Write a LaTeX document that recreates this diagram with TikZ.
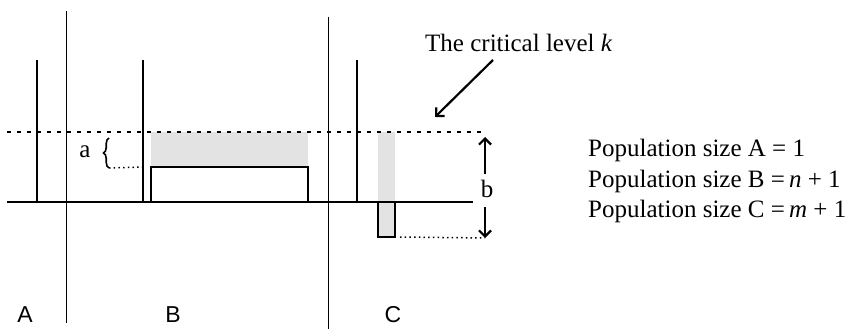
\documentclass[tikz,border=0pt]{standalone}
\usepackage{fontspec}
\setmainfont{Liberation Serif}
\newfontfamily\labelsans{Liberation Sans}
\usetikzlibrary{arrows.meta,decorations.pathreplacing}
\begin{document}
\begin{tikzpicture}[x=1pt,y=-1pt,
  thickline/.style={line width=2.7pt},
  thinline/.style={line width=0.9pt},
  critical/.style={line width=2pt, dash pattern=on 3.5pt off 6.5pt},
  finedots/.style={line width=1.5pt, dash pattern=on 1.5pt off 3.2pt},
  shade/.style={fill=black!11, draw=none},
  boxline/.style={line width=2.5pt},
  bracestyle/.style={line width=1.6pt, decorate, decoration={brace, amplitude=5.5pt}},
  lbl/.style={font=\fontsize{25}{30}\selectfont, inner sep=0pt},
  seclbl/.style={font=\labelsans\fontsize{23}{28}\selectfont, inner sep=0pt},
  pointer/.style={line width=2.2pt, -{Straight Barb[length=6pt,width=12pt,line width=2.2pt]}}]
\useasboundingbox (0,0) rectangle (855,329);

% shaded areas
\fill[shade] (151,132) rectangle (308,167);
\fill[shade] (378,132) rectangle (395,202);

% section separators
\draw[thinline] (66,11) -- (66,323);
\draw[thinline] (328,17) -- (328,329);

% critical level
\coordinate (kL) at (7,132);
\coordinate (kR) at (487,132);
\draw[critical] (kL) -- (kR);

% baseline
\coordinate (baseL) at (7,202);
\coordinate (baseR) at (473,202);
\draw[thickline] (baseL) -- (baseR);

% spikes
\draw[thickline] (37,60) -- (37,202);
\draw[thickline] (143,60) -- (143,202);
\draw[thickline] (357,60) -- (357,202);

% boxes
\draw[boxline, fill=white] (151,167) rectangle (308,202);
\draw[boxline, fill=black!11] (378,202) rectangle (395,237);

% a brace
\node[lbl] (a) at (85,152) {a};
\coordinate (braceBot) at (109,168);
\coordinate (braceTop) at (109,138);
\draw[bracestyle] (braceBot) -- (braceTop);
\coordinate (aBox) at (143,167);
\draw[finedots] (braceBot) -- (aBox);

% b
\node[lbl] (b) at (487,189) {b};
\coordinate (bUpFrom) at (485,174);
\coordinate (bUpTo) at (485,137);
\coordinate (bDnFrom) at (485,207);
\coordinate (bDnTo) at (485,238);
\draw[pointer] (bUpFrom) -- (bUpTo);
\draw[pointer] (bDnFrom) -- (bDnTo);
\coordinate (cBot) at (400,237);
\draw[finedots] (cBot) -- (bDnTo);

% critical level label
\node[lbl, anchor=base west] (crit) at (425,52) {The critical level \textit{k}};
\coordinate (critFrom) at (493,60);
\coordinate (critTo) at (435,117);
\draw[pointer] (critFrom) -- (critTo);

% population sizes
\node[lbl, anchor=base west] (popA) at (588,157) {Population size A = 1};
\node[lbl, anchor=base west] (popB) at (588,187) {Population size B =\,\textit{n} + 1};
\node[lbl, anchor=base west] (popC) at (588,217) {Population size C =\,\textit{m} + 1};

% section labels
\node[seclbl] (secA) at (25,315) {A};
\node[seclbl] (secB) at (173,315) {B};
\node[seclbl] (secC) at (393,315) {C};
\end{tikzpicture}
\end{document}
